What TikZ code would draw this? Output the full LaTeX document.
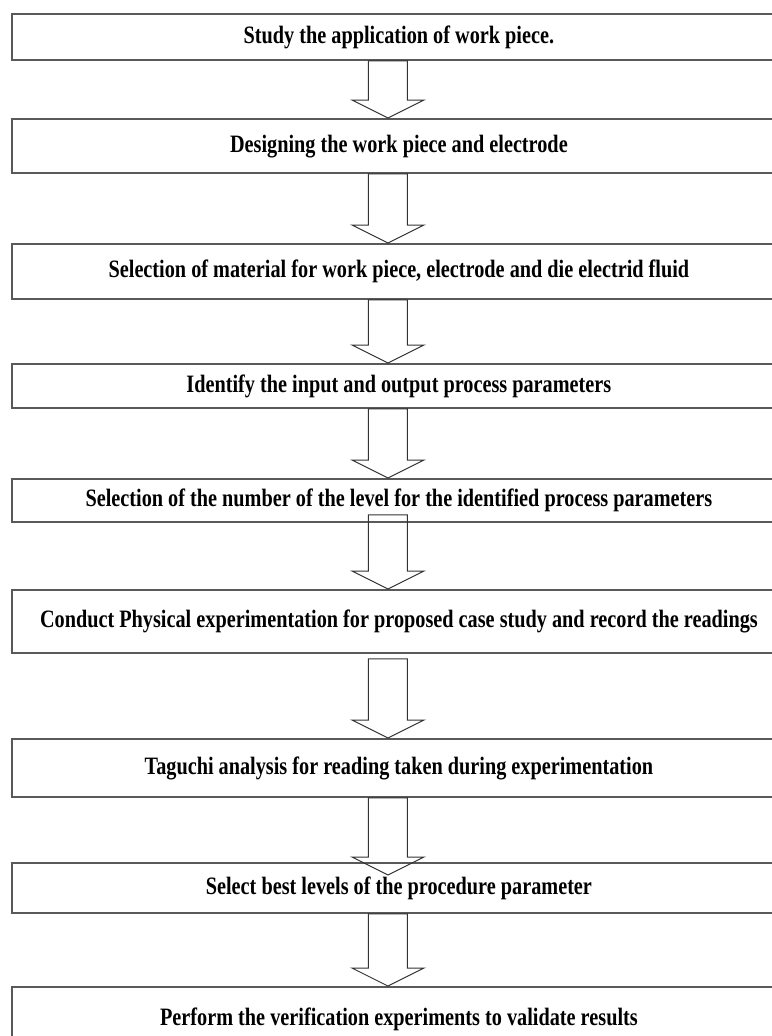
\documentclass[tikz,border=0pt]{standalone}
\usepackage{fontspec}
\setmainfont{Liberation Serif}[FakeStretch=0.81]
\usetikzlibrary{calc}

\tikzset{
  stepbox/.style={draw=black!65, line width=1.8pt, minimum width=774pt, inner sep=0pt,
    anchor=north west, align=center, text height=18pt, text depth=5pt,
    font=\fontsize{25}{29}\selectfont\bfseries},
  blockarrow/.style={draw=black!80, line width=1pt, line join=miter}
}

% block arrow: from node, to node, shift at top, shift at tip
\newcommand{\flowarrow}[4]{%
  \draw[blockarrow] ($(#1)+(-30.5,#3)$) -- ($(#2)+(-30.5,#4-18)$) -- ($(#2)+(-47,#4-18)$)
    -- ($(#2)+(-11,#4)$) -- ($(#2)+(25,#4-18)$) -- ($(#2)+(8.5,#4-18)$)
    -- ($(#1)+(8.5,#3)$) -- cycle;}

\begin{document}
\begin{tikzpicture}[x=1pt, y=-1pt]

        \useasboundingbox (0,0) rectangle (771,1036);

        % Steps
        \node[stepbox, minimum height=46pt] (s1) at (11,13) {Study the application of work piece.};
        \node[stepbox, minimum height=54pt] (s2) at (11,118) {Designing the work piece and electrode};
        \node[stepbox, minimum height=55pt] (s3) at (11,243) {Selection of material for work piece, electrode and die electrid fluid};
        \node[stepbox, minimum height=44pt] (s4) at (11,363) {Identify the input and output process parameters};
        \node[stepbox, minimum height=43pt] (s5) at (11,478) {Selection of the number of the level for the identified process parameters};
        \node[stepbox, minimum height=63pt] (s6) at (11,589) {Conduct Physical experimentation for proposed case study and record the readings};
        \node[stepbox, minimum height=58pt] (s7) at (11,738) {Taguchi analysis for reading taken during experimentation};
        \node[stepbox, minimum height=50pt] (s8) at (11,862) {Select best levels of the procedure parameter};
        \node[stepbox, minimum height=64pt] (s9) at (11,986) {Perform the verification experiments to validate results};

        % Arrows between steps
        \flowarrow{s1.south}{s2.north}{0}{0}
        \flowarrow{s2.south}{s3.north}{0}{0}
        \flowarrow{s3.south}{s4.north}{0}{0}
        \flowarrow{s4.south}{s5.north}{0}{0}
        \flowarrow{s5.south}{s6.north}{-8}{0}
        \flowarrow{s6.south}{s7.north}{5}{0}
        \flowarrow{s7.south}{s8.north}{0}{13}
        \flowarrow{s8.south}{s9.north}{0}{0}
    \end{tikzpicture}
\end{document}
